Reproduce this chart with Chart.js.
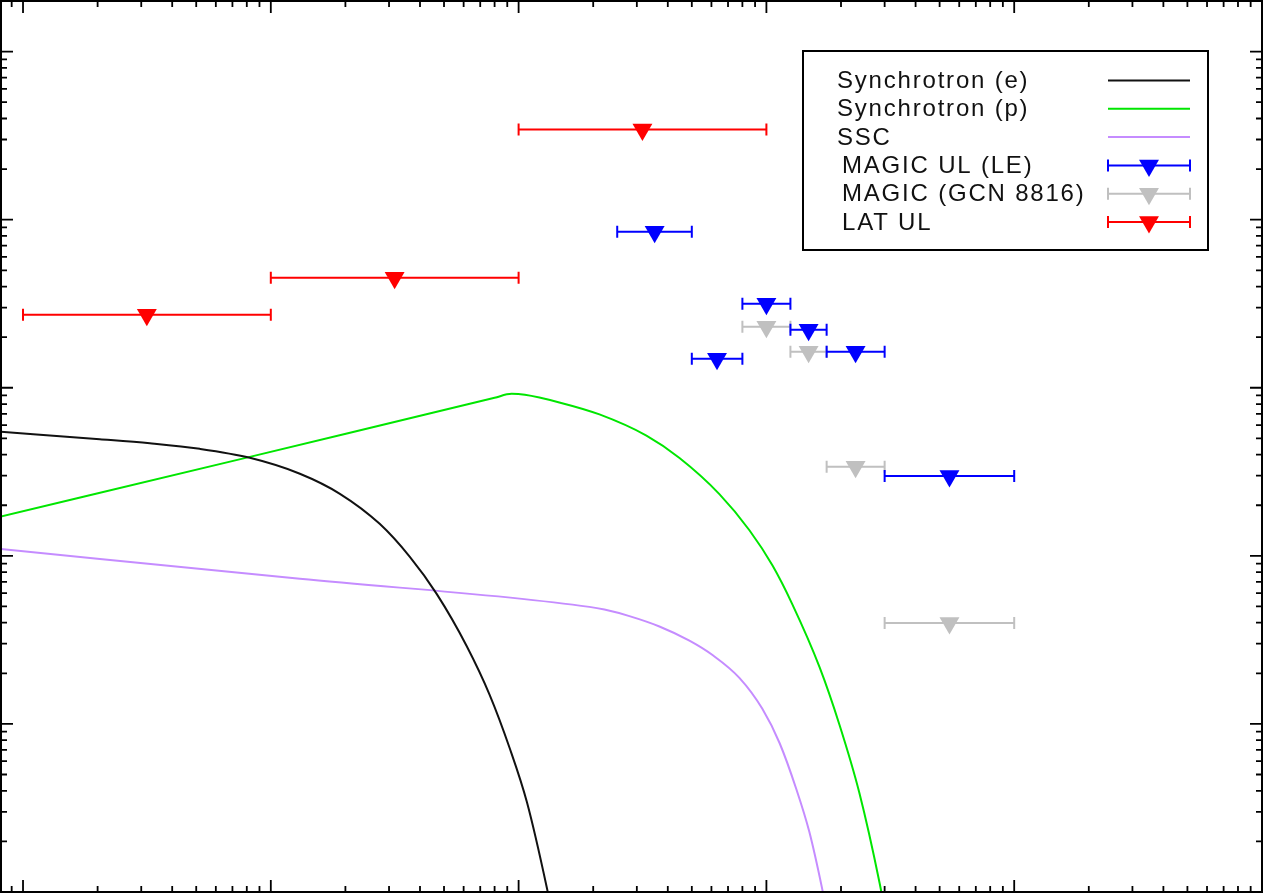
<!DOCTYPE html>
<html>
<head>
<meta charset="utf-8">
<script src="https://cdn.jsdelivr.net/npm/chart.js@4.4.0/dist/chart.umd.min.js"></script>
<style>
    html, body { margin: 0; padding: 0; background: #fff; }
    canvas { display: block; }
</style>
</head>
<body>
<canvas id="sedChart" width="1266" height="893"></canvas>
<script>
// Energia en GeV, flujo en erg cm^-2 s^-1
const synchEEnergy = [0.0808, 0.204, 0.325, 0.517, 0.823, 1.31, 1.90, 2.75, 3.64, 4.67, 6.17, 7.64, 9.20, 10.8, 13.0, 13.6];
const synchEFlux   = [5.47e-11, 4.94e-11, 4.67e-11, 4.33e-11, 3.83e-11, 3.08e-11, 2.34e-11, 1.55e-11, 9.86e-12, 5.94e-12, 2.91e-12, 1.49e-12, 7.19e-13, 3.43e-13, 1.06e-13, 7.6e-14];

const synchPEnergy = [0.0808, 0.823, 8.00, 9.37, 10.6, 14.6, 21.2, 32.8, 44.6, 64.6, 85.4, 106, 127, 164, 197, 237, 286, 313];
const synchPFlux   = [1.71e-11, 3.88e-11, 8.71e-11, 9.20e-11, 9.08e-11, 8.18e-11, 6.94e-11, 5.19e-11, 3.82e-11, 2.33e-11, 1.42e-11, 8.72e-12, 5.18e-12, 2.17e-12, 9.93e-13, 3.91e-13, 1.14e-13, 5.58e-14];

const sscEnergy = [0.0808, 1.31, 19.3, 22.2, 28.0, 37.0, 48.9, 60.6, 77.8, 96.3, 113, 132, 149, 168, 180];
const sscFlux   = [1.10e-11, 7.30e-12, 4.97e-12, 4.79e-12, 4.38e-12, 3.80e-12, 3.13e-12, 2.57e-12, 1.88e-12, 1.23e-12, 7.70e-13, 4.10e-13, 2.28e-13, 1.04e-13, 6.15e-14];

const magicLeEnergy = [35.4, 63.2, 100, 148, 229, 548];
const magicLeLow    = [25, 50, 80, 125, 175, 300];
const magicLeHigh   = [50, 80, 125, 175, 300, 1000];
const magicLeFlux   = [8.49e-10, 1.49e-10, 3.16e-10, 2.21e-10, 1.64e-10, 2.99e-11];

const magicGcnEnergy = [100, 148, 229, 548];
const magicGcnLow    = [80, 125, 175, 300];
const magicGcnHigh   = [125, 175, 300, 1000];
const magicGcnFlux   = [2.31e-10, 1.64e-10, 3.39e-11, 3.99e-12];

const latEnergy = [0.316, 3.16, 31.6];
const latLow    = [0.1, 1, 10];
const latHigh   = [1, 10, 100];
const latFlux   = [2.72e-10, 4.52e-10, 3.44e-9];

// decadas para las marcas de los ejes (sin etiquetas)
const xDecades = [0.01, 0.1, 1, 10, 100, 1000, 10000];
const yDecades = [1e-14, 1e-13, 1e-12, 1e-11, 1e-10, 1e-9, 1e-8];

const toPoints = (xs, ys) => xs.map((v, i) => ({x: v, y: ys[i]}));

function curva(label, xs, ys, color) {
    return {
        label: label,
        data: toPoints(xs, ys),
        borderColor: color,
        backgroundColor: color,
        borderWidth: 2,
        pointRadius: 0,
        cubicInterpolationMode: 'monotone',
        fill: false
    };
}

function limites(label, xs, ys, lows, highs, color) {
    return {
        label: label,
        data: toPoints(xs, ys),
        xLow: lows,
        xHigh: highs,
        showLine: false,
        borderColor: color,
        backgroundColor: color,
        pointStyle: 'triangle',
        rotation: 180,
        pointRadius: 11.5,
        pointBorderWidth: 0
    };
}

const barrasError = {
    id: 'barrasError',
    beforeDatasetDraw(chart, args) {
        const ds = chart.data.datasets[args.index];
        if (!ds.xLow) return;
        const {ctx, scales: {x, y}} = chart;
        ctx.save();
        ctx.strokeStyle = ds.borderColor;
        ctx.lineWidth = 2;
        ds.data.forEach((p, i) => {
            const x0 = x.getPixelForValue(ds.xLow[i]);
            const x1 = x.getPixelForValue(ds.xHigh[i]);
            const py = y.getPixelForValue(p.y);
            ctx.beginPath();
            ctx.moveTo(x0, py); ctx.lineTo(x1, py);
            ctx.moveTo(x0, py - 6); ctx.lineTo(x0, py + 6);
            ctx.moveTo(x1, py - 6); ctx.lineTo(x1, py + 6);
            ctx.stroke();
        });
        ctx.restore();
    }
};

function marcas(decadas) {
    const lista = [];
    decadas.forEach(d => {
        lista.push({v: d, len: 12});
        for (let m = 2; m <= 9; m++) lista.push({v: d * m, len: 6});
    });
    return lista;
}

const marcoYMarcas = {
    id: 'marcoYMarcas',
    afterDraw(chart) {
        const {ctx, chartArea: a, scales: {x, y}} = chart;
        ctx.save();
        ctx.strokeStyle = '#000';
        ctx.lineWidth = 1.8;
        ctx.beginPath();
        marcas(xDecades).forEach(t => {
            const px = x.getPixelForValue(t.v);
            if (px < a.left || px > a.right) return;
            ctx.moveTo(px, a.top); ctx.lineTo(px, a.top + t.len);
            ctx.moveTo(px, a.bottom); ctx.lineTo(px, a.bottom - t.len);
        });
        marcas(yDecades).forEach(t => {
            const py = y.getPixelForValue(t.v);
            if (py < a.top || py > a.bottom) return;
            ctx.moveTo(a.left, py); ctx.lineTo(a.left + t.len, py);
            ctx.moveTo(a.right, py); ctx.lineTo(a.right - t.len, py);
        });
        ctx.stroke();
        ctx.lineWidth = 2;
        ctx.strokeRect(a.left, a.top, a.right - a.left, a.bottom - a.top);
        ctx.restore();
    }
};

const leyenda = {
    id: 'leyenda',
    afterDraw(chart) {
        const ctx = chart.ctx;
        ctx.save();
        ctx.fillStyle = '#fff';
        ctx.fillRect(803, 51, 405, 199);
        ctx.strokeStyle = '#000';
        ctx.lineWidth = 2;
        ctx.strokeRect(803, 51, 405, 199);

        ctx.font = '24px "Liberation Sans", Arial, sans-serif';
        ctx.textBaseline = 'middle';
        if ('letterSpacing' in ctx) ctx.letterSpacing = '1.8px';
        chart.data.datasets.forEach((ds, i) => {
            const fy = 80.5 + i * 28.3;
            ctx.fillStyle = '#111';
            ctx.fillText(ds.label, i < 3 ? 837 : 842, fy + 1);
            ctx.strokeStyle = ds.borderColor;
            ctx.lineWidth = 2;
            ctx.beginPath();
            ctx.moveTo(1108, fy); ctx.lineTo(1190, fy);
            if (ds.xLow) {
                ctx.moveTo(1108, fy - 6); ctx.lineTo(1108, fy + 6);
                ctx.moveTo(1190, fy - 6); ctx.lineTo(1190, fy + 6);
            }
            ctx.stroke();
            if (ds.xLow) {
                const r = ds.pointRadius;
                ctx.fillStyle = ds.backgroundColor;
                ctx.beginPath();
                ctx.moveTo(1149, fy + r);
                ctx.lineTo(1149 - r * Math.sqrt(3) / 2, fy - r / 2);
                ctx.lineTo(1149 + r * Math.sqrt(3) / 2, fy - r / 2);
                ctx.closePath();
                ctx.fill();
            }
        });
        ctx.restore();
    }
};

new Chart(document.getElementById('sedChart'), {
    type: 'line',
    data: {
        datasets: [
            curva('Synchrotron (e)', synchEEnergy, synchEFlux, '#111111'),
            curva('Synchrotron (p)', synchPEnergy, synchPFlux, '#00e600'),
            curva('SSC', sscEnergy, sscFlux, '#c58cff'),
            limites('MAGIC UL (LE)', magicLeEnergy, magicLeFlux, magicLeLow, magicLeHigh, '#0000ff'),
            limites('MAGIC (GCN 8816)', magicGcnEnergy, magicGcnFlux, magicGcnLow, magicGcnHigh, '#c0c0c0'),
            limites('LAT UL', latEnergy, latFlux, latLow, latHigh, '#ff0000')
        ]
    },
    options: {
        responsive: false,
        devicePixelRatio: 1,
        animation: false,
        layout: { autoPadding: false, padding: { left: 1, top: 1, right: 4, bottom: 1 } },
        plugins: {
            legend: { display: false },
            tooltip: { enabled: false }
        },
        scales: {
            x: {
                type: 'logarithmic',
                min: 0.0815,
                max: 10000,
                ticks: { display: false },
                grid: { display: false, drawTicks: false },
                border: { display: false }
            },
            y: {
                type: 'logarithmic',
                min: 1e-13,
                max: 2e-8,
                ticks: { display: false },
                grid: { display: false, drawTicks: false },
                border: { display: false }
            }
        }
    },
    plugins: [barrasError, marcoYMarcas, leyenda]
});
</script>
</body>
</html>
